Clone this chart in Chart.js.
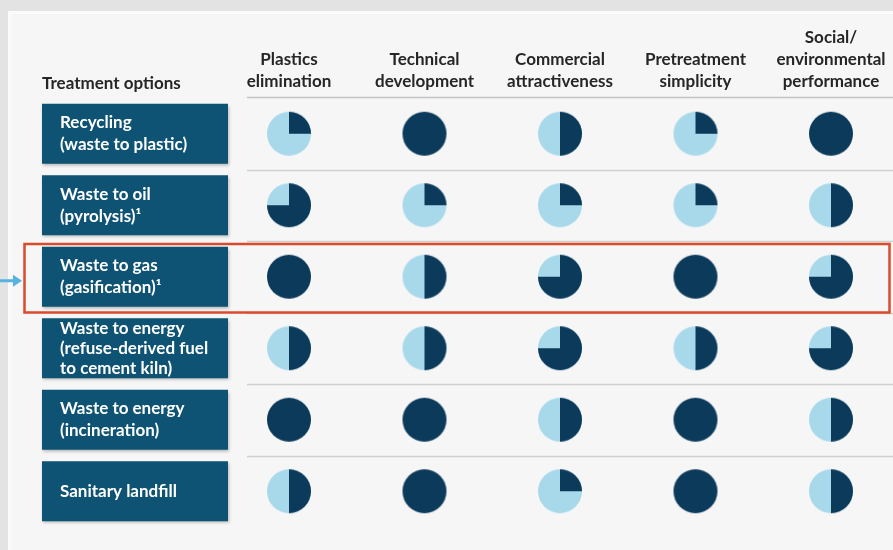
<!DOCTYPE html>
<html><head><meta charset="utf-8">
<script src="https://cdn.jsdelivr.net/npm/chart.js@4"></script>
<style>html,body{margin:0;padding:0;background:#e4e4e4;overflow:hidden}canvas{display:block}</style>
</head><body>
<canvas id="c" width="893" height="550"></canvas>
<script>
// ---- data ----
const criteria = [["Plastics","elimination"],["Technical","development"],["Commercial","attractiveness"],["Pretreatment","simplicity"],["Social/","environmental","performance"]];
const treatments = [["Recycling","(waste to plastic)"],["Waste to oil","(pyrolysis)\u00b9"],["Waste to gas","(gasification)\u00b9"],["Waste to energy","(refuse-derived fuel","to cement kiln)"],["Waste to energy","(incineration)"],["Sanitary landfill"]];
// scores in quarters (1 = quarter ball ... 4 = full ball)
const recycling = [1,4,2,1,4];
const wasteToOil = [3,1,1,1,2];
const wasteToGas = [4,2,3,4,3];
const refuseDerivedFuel = [2,2,3,2,3];
const incineration = [4,4,2,4,2];
const sanitaryLandfill = [2,4,1,4,2];
const scoreRows = [recycling, wasteToOil, wasteToGas, refuseDerivedFuel, incineration, sanitaryLandfill];
const highlightedRow = 2;
const headerTitle = "Treatment options";

const criteriaKeys = criteria.map(c => c.join(' '));
const treatmentKeys = treatments.map(t => t.join(' '));

// ---- styles ----
const DARK = '#0b3a5b', LIGHT = '#a8d9eb', BOX = '#0e5374', TEXT = '#262626';
const FONT = 'Lato, "Open Sans", sans-serif';
const FS = 17;
const BALL_R = 22;

function harveyBall(score){
  const s = 2*BALL_R+2, c = document.createElement('canvas');
  c.width = s; c.height = s;
  const g = c.getContext('2d'), m = s/2;
  if (score < 4){
    g.fillStyle = LIGHT; g.beginPath(); g.arc(m,m,BALL_R,0,Math.PI*2); g.fill();
    g.fillStyle = DARK; g.beginPath(); g.moveTo(m,m);
    g.arc(m,m,BALL_R,-Math.PI/2,-Math.PI/2+score*Math.PI/2); g.closePath(); g.fill();
  } else {
    g.fillStyle = DARK; g.beginPath(); g.arc(m,m,BALL_R,0,Math.PI*2); g.fill();
  }
  return c;
}
const balls = {1:harveyBall(1),2:harveyBall(2),3:harveyBall(3),4:harveyBall(4)};

const datasets = scoreRows.map((row, r) => ({
  label: treatmentKeys[r],
  data: row.map((score, i) => ({x: criteriaKeys[i], y: treatmentKeys[r], score: score})),
  pointStyle: ctx => balls[ctx.raw ? ctx.raw.score : 4],
  pointRadius: BALL_R,
  showLine: false,
  clip: false
}));

const decor = {
  id: 'decor',
  beforeDraw(chart){
    const {ctx, chartArea, scales} = chart, y = scales.y, W = chart.width, H = chart.height;
    ctx.save();
    ctx.fillStyle = '#e3e3e3'; ctx.fillRect(0,0,W,H);
    ctx.fillStyle = '#fbfbfb'; ctx.fillRect(8,11,W-8,H-11);
    ctx.fillStyle = '#f6f6f6'; ctx.fillRect(11,14,W-11,H-14);
    const band = y.getPixelForValue(1) - y.getPixelForValue(0);
    // header underline
    ctx.strokeStyle = '#c4c4c4'; ctx.lineWidth = 1.5;
    ctx.beginPath(); ctx.moveTo(247, chartArea.top-0.5); ctx.lineTo(W, chartArea.top-0.5); ctx.stroke();
    // row separators
    ctx.strokeStyle = '#d0d0d0';
    for (let r = 0; r < treatments.length-1; r++){
      const py = Math.round(y.getPixelForValue(r) + band/2) + 0.5;
      ctx.beginPath(); ctx.moveTo(247, py); ctx.lineTo(W, py); ctx.stroke();
    }
    // header title
    ctx.fillStyle = TEXT; ctx.font = 'bold ' + FS + 'px ' + FONT; ctx.textBaseline = 'middle'; ctx.textAlign = 'left';
    ctx.fillText(headerTitle, 42, 84);
    // row label boxes
    treatments.forEach((lines, r) => {
      const cy = y.getPixelForValue(r);
      ctx.save();
      ctx.shadowColor = 'rgba(0,0,0,0.25)'; ctx.shadowBlur = 3; ctx.shadowOffsetX = 1; ctx.shadowOffsetY = 2;
      ctx.fillStyle = BOX; ctx.fillRect(42, cy-30, 186, 60);
      ctx.restore();
      ctx.fillStyle = '#ffffff'; ctx.font = 'bold ' + FS + 'px ' + FONT; ctx.textBaseline = 'middle'; ctx.textAlign = 'left';
      const lh = lines.length > 2 ? 20 : 22;
      lines.forEach((t, k) => ctx.fillText(t, 60, cy + (k - (lines.length-1)/2)*lh));
    });
    ctx.restore();
  },
  afterDraw(chart){
    const {ctx, scales} = chart, y = scales.y;
    const band = y.getPixelForValue(1) - y.getPixelForValue(0);
    const cy = y.getPixelForValue(highlightedRow);
    ctx.save();
    ctx.strokeStyle = '#dc4a2c'; ctx.lineWidth = 2.5;
    ctx.strokeRect(24.5, cy - band/2 + 3, 865, band - 3);
    // arrow
    ctx.strokeStyle = '#55b3df'; ctx.fillStyle = '#55b3df'; ctx.lineWidth = 3;
    ctx.beginPath(); ctx.moveTo(0, cy+4); ctx.lineTo(14, cy+4); ctx.stroke();
    ctx.beginPath(); ctx.moveTo(13, cy-2); ctx.lineTo(22, cy+4); ctx.lineTo(13, cy+10); ctx.closePath(); ctx.fill();
    ctx.restore();
  }
};

new Chart(document.getElementById('c'), {
  type: 'scatter',
  data: { datasets },
  options: {
    responsive: false, animation: false, events: [],
    layout: { padding: { left: 289, right: 62, top: 12, bottom: 12 } },
    plugins: { legend: { display: false }, tooltip: { enabled: false } },
    scales: {
      x: {
        type: 'category', position: 'top', offset: false,
        labels: criteriaKeys,
        grid: { display: false, drawTicks: false }, border: { display: false },
        ticks: {
          color: TEXT, font: { family: FONT, size: FS, weight: 'bold', lineHeight: '22px' },
          padding: 5, maxRotation: 0, autoSkip: false,
          callback: (v, i) => criteria[i]
        },
        afterFit: s => { s.height = 86; }
      },
      y: {
        type: 'category', offset: true,
        labels: treatmentKeys,
        display: false
      }
    }
  },
  plugins: [decor]
});
</script>
</body></html>
